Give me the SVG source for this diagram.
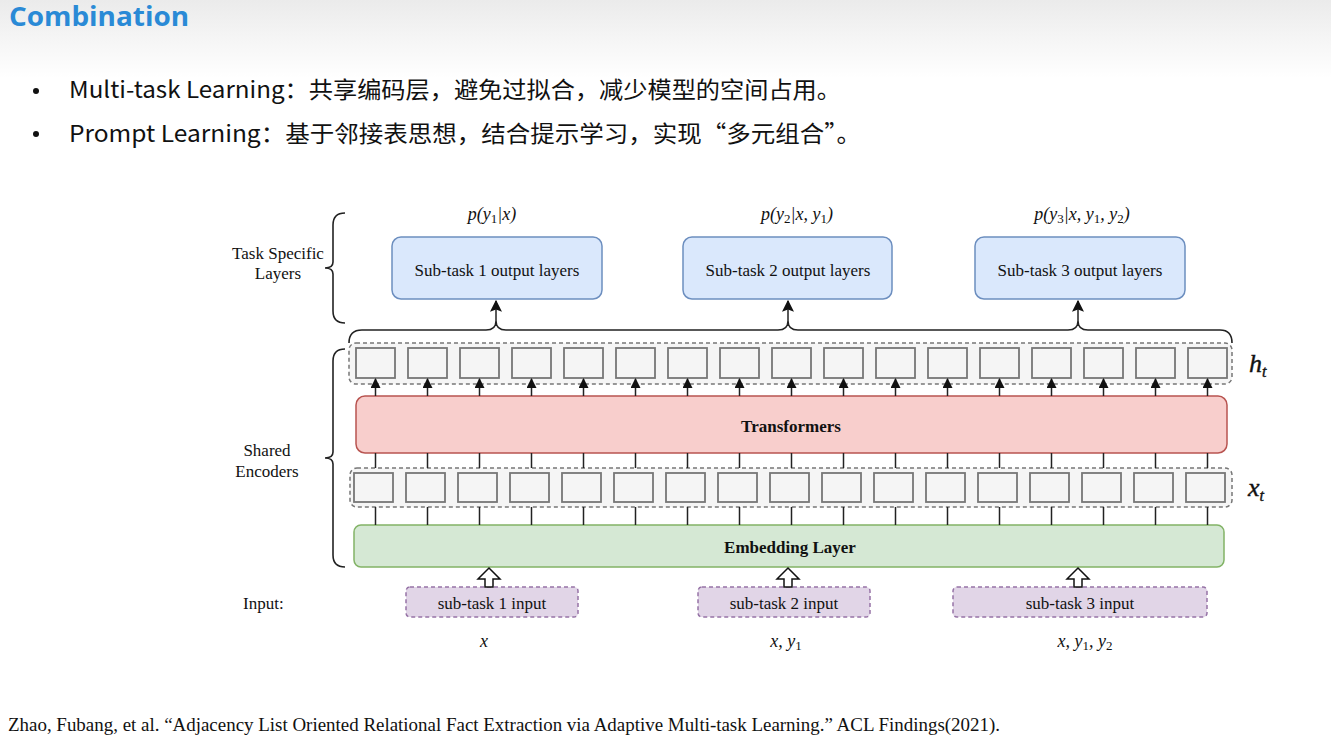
<svg xmlns="http://www.w3.org/2000/svg" width="1331" height="737" viewBox="0 0 1331 737">
<defs>
<linearGradient id="topbg" x1="0" y1="0" x2="0" y2="1">
<stop offset="0" stop-color="#ebebeb"/>
<stop offset="1" stop-color="#ffffff"/>
</linearGradient>
<marker id="ah" viewBox="0 0 10 10" refX="9" refY="5" markerWidth="10" markerHeight="10" markerUnits="userSpaceOnUse" orient="auto">
<path d="M0,0 L10,5 L0,10 z" fill="#111"/>
</marker>
<marker id="ahb" viewBox="0 0 10 10" refX="9" refY="5" markerWidth="12" markerHeight="12" markerUnits="userSpaceOnUse" orient="auto">
<path d="M0,0 L10,5 L0,10 L2,5 z" fill="#111"/>
</marker>
</defs>
<style>
.serif{font-family:"Liberation Serif","Times New Roman",serif;fill:#111}
.lbl{font-size:17px;text-anchor:middle}
.math{font-size:18px;font-style:italic;text-anchor:middle}
.sub{font-style:normal;font-size:13px}
.blue{fill:#dae8fc;stroke:#6c8ebf;stroke-width:1.5}
.red{fill:#f8cecc;stroke:#b85450;stroke-width:1.5}
.green{fill:#d5e8d4;stroke:#82b366;stroke-width:1.5}
.purple{fill:#e1d5e7;stroke:#9673a6;stroke-width:1.5;stroke-dasharray:4 3}
.cont{fill:#f5f5f5;stroke:#777;stroke-width:1.5;stroke-dasharray:4 3}
.cell{fill:#f5f5f5;stroke:#777;stroke-width:1.8}
.ln{stroke:#222;stroke-width:1.5;fill:none}
.brace{stroke:#222;stroke-width:1.6;fill:none}
.cjk{font-family:"Noto Sans CJK SC","Noto Sans",sans-serif;font-size:23px;fill:#111}
.var{font-size:26px;font-style:italic;stroke:#111;stroke-width:0.4}
</style>
<rect x="0" y="0" width="1331" height="737" fill="#ffffff"/>
<rect x="0" y="0" width="1331" height="78" fill="url(#topbg)"/>

<g id="title">
<text x="9" y="26" font-family="'Open Sans','Liberation Sans',sans-serif" font-weight="bold" font-size="26" fill="#2a8ad6" textLength="180" lengthAdjust="spacingAndGlyphs">Combination</text>
</g>
<g id="bullets">
<circle cx="36" cy="91" r="3" fill="#111"/>
<circle cx="36" cy="134" r="3" fill="#111"/>
<text class="cjk" x="69" y="98" textLength="772" lengthAdjust="spacingAndGlyphs">Multi-task Learning：共享编码层，避免过拟合，减少模型的空间占用。</text>
<text class="cjk" x="69" y="142" textLength="792" lengthAdjust="spacingAndGlyphs">Prompt Learning：基于邻接表思想，结合提示学习，实现“多元组合”。</text>
</g>

<g id="side-labels" class="serif">
<text class="lbl" x="278" y="259">Task Specific</text>
<text class="lbl" x="278" y="279">Layers</text>
<text class="lbl" x="267" y="456">Shared</text>
<text class="lbl" x="267" y="477">Encoders</text>
<text x="243" y="609" font-size="17">Input:</text>
<path class="brace" d="M345 213 Q333 213 333 225 L333 262 Q333 268 325 268 Q333 268 333 274 L333 311 Q333 323 345 323"/>
<path class="brace" d="M345 349 Q333 349 333 361 L333 452 Q333 458 325 458 Q333 458 333 464 L333 555 Q333 567 345 567"/>
</g>

<g id="probs" class="serif">
<text class="math" x="492" y="220">p(y<tspan class="sub" dy="3">1</tspan><tspan dy="-3">|x)</tspan></text>
<text class="math" x="797" y="220">p(y<tspan class="sub" dy="3">2</tspan><tspan dy="-3">|x, y</tspan><tspan class="sub" dy="3">1</tspan><tspan dy="-3">)</tspan></text>
<text class="math" x="1082" y="220">p(y<tspan class="sub" dy="3">3</tspan><tspan dy="-3">|x, y</tspan><tspan class="sub" dy="3">1</tspan><tspan dy="-3">, y</tspan><tspan class="sub" dy="3">2</tspan><tspan dy="-3">)</tspan></text>
</g>

<g id="out1"><rect class="blue" x="392" y="237" width="210" height="62" rx="9"/><text class="serif lbl" x="497" y="276">Sub-task 1 output layers</text></g>
<g id="out2"><rect class="blue" x="683" y="237" width="209" height="62" rx="9"/><text class="serif lbl" x="788" y="276">Sub-task 2 output layers</text></g>
<g id="out3"><rect class="blue" x="975" y="237" width="210" height="62" rx="9"/><text class="serif lbl" x="1080" y="276">Sub-task 3 output layers</text></g>

<g id="ht-layer">
<rect class="cont" x="349" y="343" width="883" height="41" rx="7"/>
<rect class="cell" x="356" y="348" width="39" height="30"/>
<rect class="cell" x="408" y="348" width="39" height="30"/>
<rect class="cell" x="460" y="348" width="39" height="30"/>
<rect class="cell" x="512" y="348" width="39" height="30"/>
<rect class="cell" x="564" y="348" width="39" height="30"/>
<rect class="cell" x="616" y="348" width="39" height="30"/>
<rect class="cell" x="668" y="348" width="39" height="30"/>
<rect class="cell" x="720" y="348" width="39" height="30"/>
<rect class="cell" x="772" y="348" width="39" height="30"/>
<rect class="cell" x="824" y="348" width="39" height="30"/>
<rect class="cell" x="876" y="348" width="39" height="30"/>
<rect class="cell" x="928" y="348" width="39" height="30"/>
<rect class="cell" x="980" y="348" width="39" height="30"/>
<rect class="cell" x="1032" y="348" width="39" height="30"/>
<rect class="cell" x="1084" y="348" width="39" height="30"/>
<rect class="cell" x="1136" y="348" width="39" height="30"/>
<rect class="cell" x="1188" y="348" width="39" height="30"/>
<text class="serif var" x="1249" y="372">h<tspan font-size="16" dy="5">t</tspan></text>
</g>

<g id="transformers"><rect class="red" x="356" y="396" width="871" height="57" rx="9"/><text class="serif lbl" x="791" y="432" font-weight="bold">Transformers</text></g>

<g id="xt-layer">
<rect class="cont" x="350" y="468" width="882" height="39" rx="7"/>
<rect class="cell" x="354" y="473" width="39" height="29"/>
<rect class="cell" x="406" y="473" width="39" height="29"/>
<rect class="cell" x="458" y="473" width="39" height="29"/>
<rect class="cell" x="510" y="473" width="39" height="29"/>
<rect class="cell" x="562" y="473" width="39" height="29"/>
<rect class="cell" x="614" y="473" width="39" height="29"/>
<rect class="cell" x="666" y="473" width="39" height="29"/>
<rect class="cell" x="718" y="473" width="39" height="29"/>
<rect class="cell" x="770" y="473" width="39" height="29"/>
<rect class="cell" x="822" y="473" width="39" height="29"/>
<rect class="cell" x="874" y="473" width="39" height="29"/>
<rect class="cell" x="926" y="473" width="39" height="29"/>
<rect class="cell" x="978" y="473" width="39" height="29"/>
<rect class="cell" x="1030" y="473" width="39" height="29"/>
<rect class="cell" x="1082" y="473" width="39" height="29"/>
<rect class="cell" x="1134" y="473" width="39" height="29"/>
<rect class="cell" x="1186" y="473" width="39" height="29"/>
<text class="serif var" x="1248" y="496">x<tspan font-size="16" dy="5">t</tspan></text>
</g>

<g id="embedding"><rect class="green" x="354" y="525" width="870" height="42" rx="7"/><text class="serif lbl" x="790" y="553" font-weight="bold">Embedding Layer</text></g>

<g id="in1"><rect class="purple" x="406" y="587" width="172" height="30" rx="4"/><text class="serif lbl" x="492" y="609">sub-task 1 input</text><text class="serif math" x="484" y="647">x</text></g>
<g id="in2"><rect class="purple" x="698" y="587" width="172" height="30" rx="4"/><text class="serif lbl" x="784" y="609">sub-task 2 input</text><text class="serif math" x="786" y="647">x, y<tspan class="sub" dy="3">1</tspan></text></g>
<g id="in3"><rect class="purple" x="953" y="587" width="254" height="30" rx="4"/><text class="serif lbl" x="1080" y="609">sub-task 3 input</text><text class="serif math" x="1085" y="647">x, y<tspan class="sub" dy="3">1</tspan><tspan dy="-3">, y</tspan><tspan class="sub" dy="3">2</tspan></text></g>

<g id="connectors">
<path class="brace" d="M349 343 Q349 330 362 330 L486 330 Q496 330 496 321 Q496 330 506 330 L778 330 Q788 330 788 321 Q788 330 798 330 L1068 330 Q1078 330 1078 321 Q1078 330 1088 330 L1220 330 Q1232 330 1232 343"/>
<line class="ln" x1="496" y1="321" x2="496" y2="301" marker-end="url(#ahb)"/>
<line class="ln" x1="788" y1="321" x2="788" y2="301" marker-end="url(#ahb)"/>
<line class="ln" x1="1078" y1="321" x2="1078" y2="301" marker-end="url(#ahb)"/>
<g id="h-arrows">
<line class="ln" x1="375.5" y1="396" x2="375.5" y2="379" marker-end="url(#ah)"/>
<line class="ln" x1="427.5" y1="396" x2="427.5" y2="379" marker-end="url(#ah)"/>
<line class="ln" x1="479.5" y1="396" x2="479.5" y2="379" marker-end="url(#ah)"/>
<line class="ln" x1="531.5" y1="396" x2="531.5" y2="379" marker-end="url(#ah)"/>
<line class="ln" x1="583.5" y1="396" x2="583.5" y2="379" marker-end="url(#ah)"/>
<line class="ln" x1="635.5" y1="396" x2="635.5" y2="379" marker-end="url(#ah)"/>
<line class="ln" x1="687.5" y1="396" x2="687.5" y2="379" marker-end="url(#ah)"/>
<line class="ln" x1="739.5" y1="396" x2="739.5" y2="379" marker-end="url(#ah)"/>
<line class="ln" x1="791.5" y1="396" x2="791.5" y2="379" marker-end="url(#ah)"/>
<line class="ln" x1="843.5" y1="396" x2="843.5" y2="379" marker-end="url(#ah)"/>
<line class="ln" x1="895.5" y1="396" x2="895.5" y2="379" marker-end="url(#ah)"/>
<line class="ln" x1="947.5" y1="396" x2="947.5" y2="379" marker-end="url(#ah)"/>
<line class="ln" x1="999.5" y1="396" x2="999.5" y2="379" marker-end="url(#ah)"/>
<line class="ln" x1="1051.5" y1="396" x2="1051.5" y2="379" marker-end="url(#ah)"/>
<line class="ln" x1="1103.5" y1="396" x2="1103.5" y2="379" marker-end="url(#ah)"/>
<line class="ln" x1="1155.5" y1="396" x2="1155.5" y2="379" marker-end="url(#ah)"/>
<line class="ln" x1="1207.5" y1="396" x2="1207.5" y2="379" marker-end="url(#ah)"/>
</g>
<path class="ln" d="M375.5 453V468M427.5 453V468M479.5 453V468M531.5 453V468M583.5 453V468M635.5 453V468M687.5 453V468M739.5 453V468M791.5 453V468M843.5 453V468M895.5 453V468M947.5 453V468M999.5 453V468M1051.5 453V468M1103.5 453V468M1155.5 453V468M1207.5 453V468"/>
<path class="ln" d="M375.5 507V525M427.5 507V525M479.5 507V525M531.5 507V525M583.5 507V525M635.5 507V525M687.5 507V525M739.5 507V525M791.5 507V525M843.5 507V525M895.5 507V525M947.5 507V525M999.5 507V525M1051.5 507V525M1103.5 507V525M1155.5 507V525M1207.5 507V525"/>
<path d="M489 568 L500 579 L493 579 L493 587 L485 587 L485 579 L478 579 Z" fill="#fff" stroke="#111" stroke-width="1.5"/>
<path d="M788 568 L799 579 L792 579 L792 587 L784 587 L784 579 L777 579 Z" fill="#fff" stroke="#111" stroke-width="1.5"/>
<path d="M1078 568 L1089 579 L1082 579 L1082 587 L1074 587 L1074 579 L1067 579 Z" fill="#fff" stroke="#111" stroke-width="1.5"/>
</g>

<g id="citation">
<text class="serif" x="8" y="731" font-size="18" textLength="992" lengthAdjust="spacingAndGlyphs">Zhao, Fubang, et al. “Adjacency List Oriented Relational Fact Extraction via Adaptive Multi-task Learning.” ACL Findings(2021).</text>
</g>
</svg>
